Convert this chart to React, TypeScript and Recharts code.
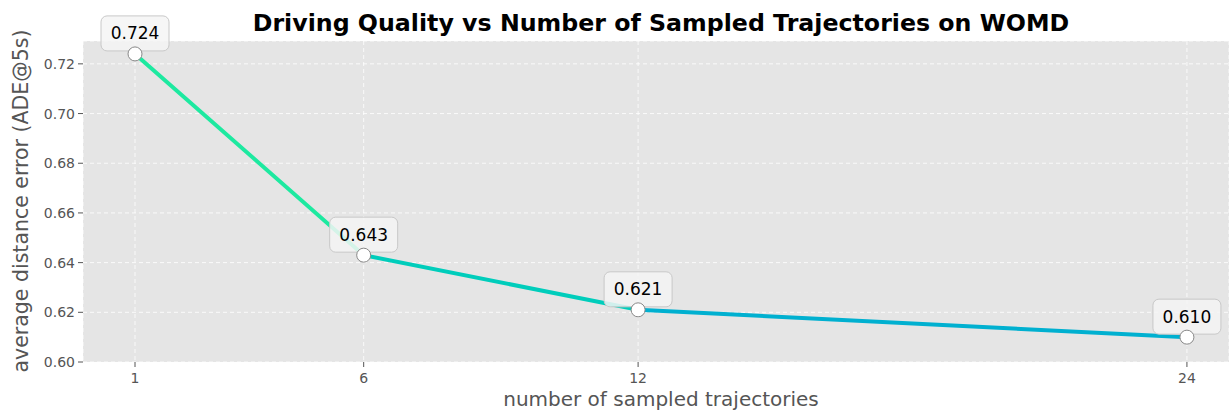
import React from 'react';
import { LineChart, Line, XAxis, YAxis, CartesianGrid } from 'recharts';

const trajectories = [1, 6, 12, 24];
const adeValues = [0.724, 0.643, 0.621, 0.61];
const yTicks = [0.6, 0.62, 0.64, 0.66, 0.68, 0.7, 0.72];
const segmentColors = ['#1DE9A0', '#00CDBB', '#00B0D0'];

const data = trajectories.map((n, i) => ({ n, ade: adeValues[i] }));

const FONT = '"DejaVu Sans", sans-serif';
const GRAY = '#555555';

const xMin = trajectories[0];
const xMax = trajectories[trajectories.length - 1];

// hard-stop gradient so each segment keeps its own colour
const stops: { offset: number; color: string }[] = [];
segmentColors.forEach((c, i) => {
  const a = (trajectories[i] - xMin) / (xMax - xMin);
  const b = (trajectories[i + 1] - xMin) / (xMax - xMin);
  stops.push({ offset: a, color: c });
  stops.push({ offset: b, color: c });
});

function PointWithLabel(props: any) {
  const { cx, cy, payload } = props;
  if (cx == null || cy == null) return null;
  const w = 68;
  const h = 35;
  return (
    <g>
      <rect
        x={cx - w / 2}
        y={cy - h - 3}
        width={w}
        height={h}
        rx={6}
        ry={6}
        fill="#F5F5F5"
        fillOpacity={0.85}
        stroke="#C8C8C8"
        strokeWidth={1}
      />
      <text
        x={cx}
        y={cy - h / 2 - 3}
        textAnchor="middle"
        dominantBaseline="central"
        fontFamily={FONT}
        fontSize={17}
        fill="#000"
      >
        {payload.ade.toFixed(3)}
      </text>
      <circle cx={cx} cy={cy} r={7} fill="#fff" stroke="#888" strokeWidth={1} />
    </g>
  );
}

export default function App() {
  return (
    <div style={{ position: 'absolute', left: 0, top: 0, width: 1229, height: 412, background: '#fff' }}>
      <LineChart
        width={1229}
        height={412}
        data={data}
        margin={{ top: 41, right: 0, bottom: 0, left: 0 }}
      >
        <defs>
          <linearGradient id="lineGrad" x1="0" y1="0" x2="1" y2="0">
            {stops.map((s, i) => (
              <stop key={i} offset={s.offset} stopColor={s.color} />
            ))}
          </linearGradient>
        </defs>
        <CartesianGrid
          stroke="#FFFFFF"
          strokeDasharray="4 3"
          strokeOpacity={0.8}
          fill="#E5E5E5"
          fillOpacity={1}
        />
        <XAxis
          dataKey="n"
          type="number"
          domain={[-0.137, 24.92]}
          ticks={trajectories}
          height={50}
          axisLine={false}
          tickLine={{ stroke: GRAY }}
          tickSize={5}
          tickMargin={6}
          tick={{ fontSize: 14, fill: GRAY, fontFamily: FONT }}
        />
        <YAxis
          type="number"
          domain={[0.6, 0.7292]}
          ticks={yTicks}
          width={83}
          axisLine={false}
          tickLine={{ stroke: GRAY }}
          tickSize={5}
          tickMargin={3}
          tickFormatter={(v: number) => v.toFixed(2)}
          tick={{ fontSize: 14, fill: GRAY, fontFamily: FONT }}
        />
        <Line
          dataKey="ade"
          stroke="url(#lineGrad)"
          strokeWidth={4}
          dot={<PointWithLabel />}
          activeDot={false}
          isAnimationActive={false}
        />
        <text
          x={661}
          y={23}
          textAnchor="middle"
          dominantBaseline="central"
          fontFamily={FONT}
          fontWeight="bold"
          fontSize={23.7}
          fill="#000"
        >
          Driving Quality vs Number of Sampled Trajectories on WOMD
        </text>
        <text
          x={661}
          y={399}
          textAnchor="middle"
          dominantBaseline="central"
          fontFamily={FONT}
          fontSize={20}
          fill={GRAY}
        >
          number of sampled trajectories
        </text>
        <text
          x={21}
          y={201}
          textAnchor="middle"
          dominantBaseline="central"
          fontFamily={FONT}
          fontSize={20.5}
          fill={GRAY}
          transform="rotate(-90 21 201)"
        >
          average distance error (ADE@5s)
        </text>
      </LineChart>
    </div>
  );
}
